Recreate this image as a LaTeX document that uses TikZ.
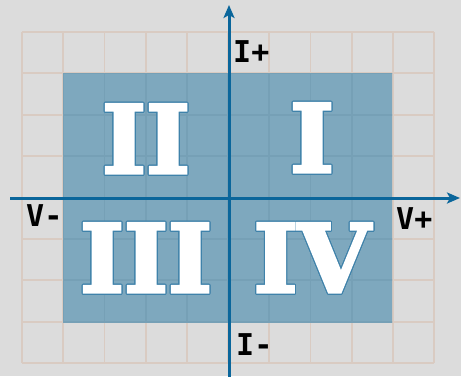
\documentclass[tikz,border=0pt]{standalone}
\usepackage{fontspec}
\usepackage{contour}
\usetikzlibrary{arrows.meta}
\newfontfamily\labelfont{DejaVu Sans Mono}
\newfontfamily\numfont[BoldFeatures={FakeBold=3.5}]{DejaVu Serif}
\definecolor{bgc}{HTML}{DCDCDC}
\definecolor{gridc}{HTML}{D9CBC2}
\definecolor{gridb}{HTML}{76A0B6}
\definecolor{quadc}{HTML}{7EA8BE}
\definecolor{axisc}{HTML}{0A669B}
\definecolor{outc}{HTML}{3F82AA}
\contourlength{1.1pt}
\contournumber{16}
\tikzset{
  gridline/.style={draw=gridc, line width=1.8pt},
  gridin/.style={draw=gridb, line width=1.8pt},
  axisline/.style={draw=axisc, line width=3pt, -{Stealth[length=13pt,width=11pt,inset=3pt]}},
  axlabel/.style={inner sep=0pt, anchor=base west, font=\labelfont\bfseries\fontsize{30}{30}\selectfont},
  numeral/.style={inner sep=0pt, anchor=base, font=\numfont\bfseries\fontsize{94}{94}\selectfont}
}
\newcommand{\romnum}[1]{\contour{outc}{\textcolor{white}{#1}}}
\begin{document}
\begin{tikzpicture}[x=1pt,y=-1pt]
\useasboundingbox (0,0) rectangle (461,376);
\fill[bgc] (0,0) rectangle (461,376);
% grid
\foreach \i in {0,...,10} \draw[gridline] ({22+\i*41.2},32) -- ({22+\i*41.2},363);
\foreach \j in {0,...,8} \draw[gridline] (22,{32+\j*41.375}) -- (434,{32+\j*41.375});
% quadrant area
\fill[quadc] (63.2,73.4) rectangle (392,322.5);
\begin{scope}
\clip (63.2,73.4) rectangle (392,322.5);
\foreach \i in {0,...,10} \draw[gridin] ({22+\i*41.2},32) -- ({22+\i*41.2},363);
\foreach \j in {0,...,8} \draw[gridin] (22,{32+\j*41.375}) -- (434,{32+\j*41.375});
\end{scope}
% axes
\coordinate (xs) at (10,198);
\coordinate (xe) at (460,198);
\coordinate (ys) at (229,377);
\coordinate (ye) at (229,5);
\draw[axisline] (xs) -- (xe);
\draw[axisline] (ys) -- (ye);
% axis labels
\node[axlabel] (ip) at (233,62) {I+};
\node[axlabel] (vm) at (26,226) {V-};
\node[axlabel] (vp) at (396,229) {V+};
\node[axlabel] (im) at (236,355) {I-};
% numerals
\node[numeral] (q2) at (146,173) {\romnum{II}};
\node[numeral] (q1) at (312,172) {\romnum{I}};
\node[numeral] (q3) at (146,292) {\romnum{III}};
\node[numeral] (q4) at (312,292) {\romnum{IV}};
\end{tikzpicture}
\end{document}
